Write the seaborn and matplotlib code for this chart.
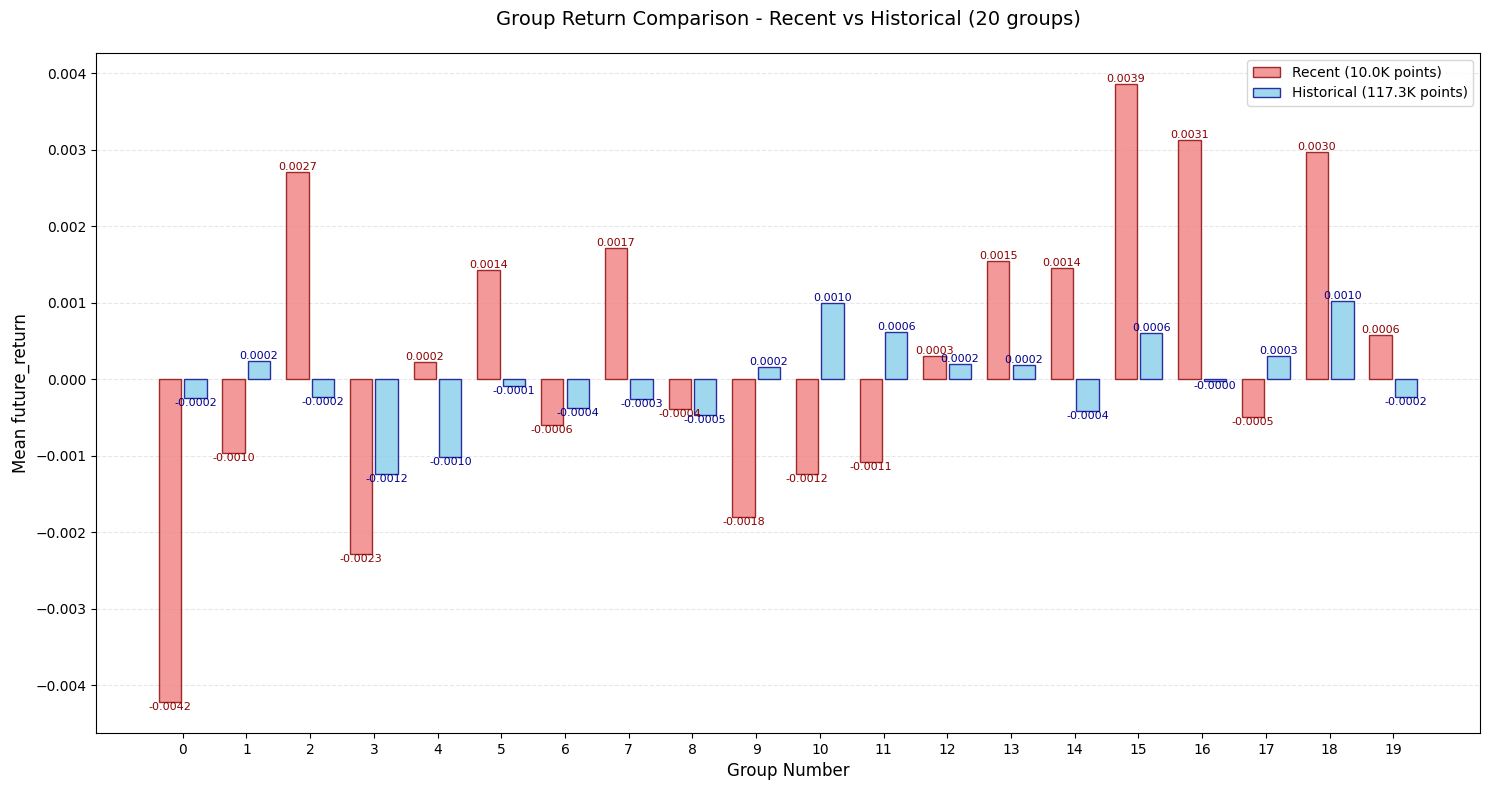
import matplotlib
matplotlib.use("Agg")
import matplotlib.pyplot as plt
import seaborn as sns
import pandas as pd
import numpy as np

groups = list(range(20))
recent = [-0.00422, -0.00097, 0.00271, -0.00229, 0.00022, 0.00143, -0.00060, 0.00171, -0.00039, -0.00180,
          -0.00124, -0.00108, 0.00030, 0.00155, 0.00145, 0.00386, 0.00313, -0.00049, 0.00297, 0.00058]
historical = [-0.00024, 0.00024, -0.00023, -0.00124, -0.00101, -0.00009, -0.00037, -0.00026, -0.00047, 0.00016,
              0.00100, 0.00062, 0.00020, 0.00018, -0.00041, 0.00060, -0.00002, 0.00031, 0.00102, -0.00023]
recent_label = "Recent (10.0K points)"
hist_label = "Historical (117.3K points)"

df = pd.DataFrame({
    "group": groups * 2,
    "value": recent + historical,
    "series": [recent_label] * 20 + [hist_label] * 20,
})

fig, ax = plt.subplots(figsize=(14.89, 7.9), dpi=100)
sns.barplot(data=df, x="group", y="value", hue="series", ax=ax,
            palette={recent_label: "lightcoral", hist_label: "skyblue"},
            width=0.8, gap=0.125, alpha=0.8, errorbar=None, saturation=1,
            linewidth=1)

edge = {0: "darkred", 1: "darkblue"}
txt = {0: "darkred", 1: "darkblue"}
for i, cont in enumerate(ax.containers):
    for p in cont:
        p.set_edgecolor(edge[i])
        p.set_linewidth(1)
    vals = [recent, historical][i]
    ax.bar_label(cont, labels=[f"{v:.4f}" for v in vals], fontsize=8, color=txt[i], padding=0)

handles, labels = ax.get_legend_handles_labels()
for i, h in enumerate(handles):
    h.set_edgecolor(edge[i])
ax.legend(handles, labels, loc="upper right")

ax.set_xlim(-1.36, 20.36)
ax.set_xlabel("Group Number", fontsize=12)
ax.set_ylabel("Mean future_return", fontsize=12)
ax.set_title("Group Return Comparison - Recent vs Historical (20 groups)", fontsize=14, pad=20)
ax.grid(axis="y", linestyle="--", alpha=0.3)
ax.set_axisbelow(True)
fig.subplots_adjust(left=96/1489, right=1480/1489, top=1-53/790, bottom=1-733/790)
fig.savefig("out.png", dpi=100)
